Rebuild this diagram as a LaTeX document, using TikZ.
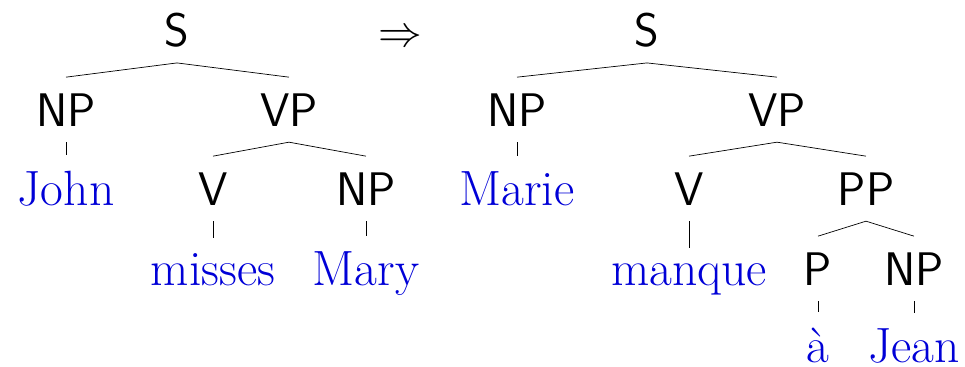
\documentclass[tikz,border=0pt]{standalone}

\definecolor{leafblue}{RGB}{0,0,215}

\begin{document}
\begin{tikzpicture}[x=0.02cm, y=-0.02cm,
    cat/.style={font=\fontsize{26.8}{32}\selectfont\sffamily, anchor=base, inner sep=9pt},
    word/.style={font=\fontsize{28.2}{34}\selectfont, text=leafblue, anchor=base, inner sep=8.5pt}]
    \useasboundingbox (0,0) rectangle (965,366);
    \def\la{46} \def\lb{126} \def\lc{205} \def\ld{285} \def\le{362}

    \node[cat] (sL) at (177,\la) {S};
    \node[cat] (npL) at (66,\lb) {NP};
    \node[cat] (vpL) at (289,\lb) {VP};
    \node[word] (john) at (66,\lc) {John};
    \node[cat] (vL) at (213,\lc) {V};
    \node[cat] (objL) at (366,\lc) {NP};
    \node[word] (misses) at (213,\ld) {misses};
    \node[word] (mary) at (366,\ld) {Mary};

    \node[font=\fontsize{29.5}{35}\selectfont, anchor=base] (arrow) at (400,\la) {$\Rightarrow$};

    \node[cat] (sR) at (647,\la) {S};
    \node[cat] (npR) at (517,\lb) {NP};
    \node[cat] (vpR) at (777,\lb) {VP};
    \node[word] (marie) at (517,\lc) {Marie};
    \node[cat] (vR) at (689,\lc) {V};
    \node[cat] (ppR) at (866,\lc) {PP};
    \node[word] (manque) at (689,\ld) {manque};
    \node[cat] (pR) at (818,\ld) {P};
    \node[cat] (objR) at (914,\ld) {NP};
    \node[word] (prep) at (818,\le) {à};
    \node[word] (jean) at (914,\le) {Jean};

    \foreach \a/\b in {sL/npL, sL/vpL, npL/john, vpL/vL, vpL/objL, vL/misses, objL/mary,
                       sR/npR, sR/vpR, npR/marie, vpR/vR, vpR/ppR, vR/manque,
                       ppR/pR, ppR/objR, pR/prep, objR/jean}
        \draw (\a.south) -- (\b.north);
\end{tikzpicture}
\end{document}
